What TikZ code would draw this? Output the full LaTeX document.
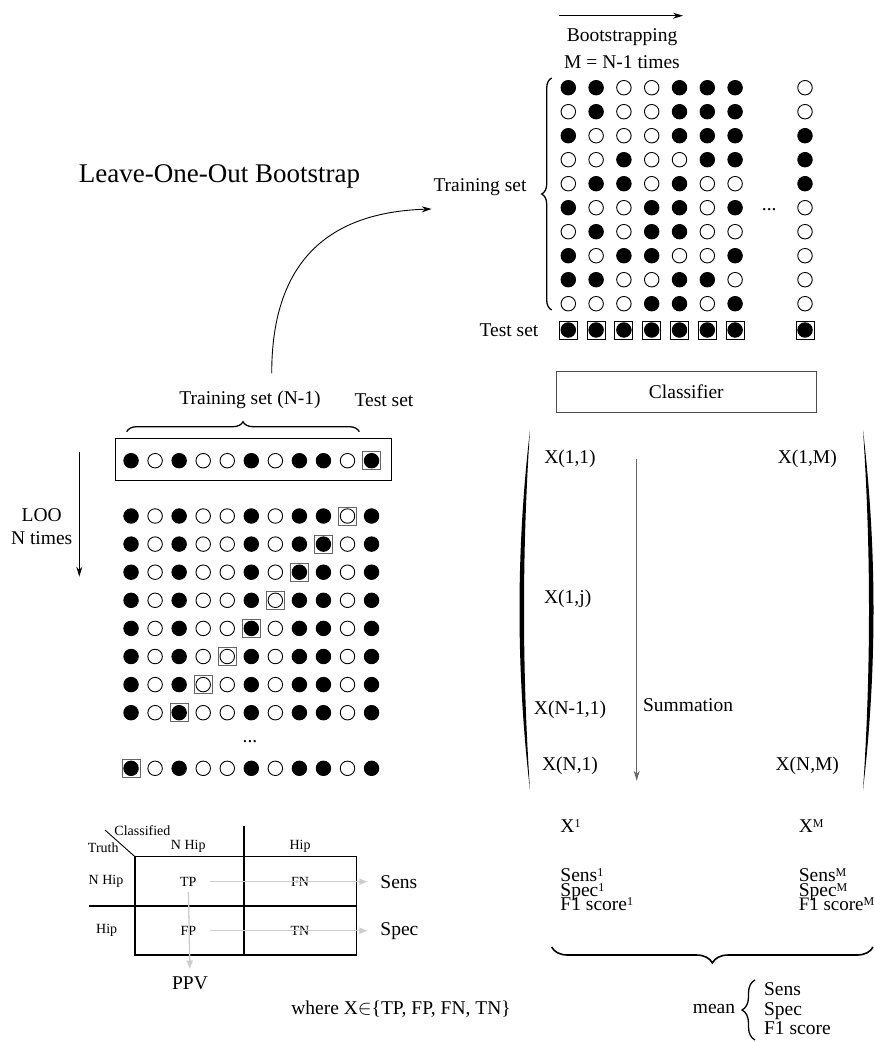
\documentclass[tikz,border=0pt]{standalone}
\usepackage{fontspec}
\setmainfont{Liberation Serif}
\usetikzlibrary{arrows.meta,decorations.pathreplacing}
\newcommand{\sobre}[1]{\raisebox{5pt}{\fontsize{12}{12}\selectfont #1}}

\begin{document}
\begin{tikzpicture}[x=1pt,y=-1pt,line width=0.9pt,
		p0/.style={circle,draw,minimum size=14.5pt,inner sep=0pt},
		p1/.style={p0,fill=black},
		caja/.style={draw,minimum size=18pt,inner sep=0pt},
		texto/.style={font=\fontsize{19.5}{23}\selectfont,inner sep=1pt},
		tabla/.style={font=\fontsize{14}{16}\selectfont,inner sep=1pt},
		flecha/.style={-{Stealth[length=10pt,width=6pt]}},
		gris/.style={draw=gray!40,line width=1.3pt,-{Latex[length=9pt,width=7pt]}},
		llave/.style={decorate,line width=1.3pt}]
		\useasboundingbox (0,0) rectangle (875,1042);

		% Titulo
		\node[font=\fontsize{27}{30}\selectfont] (titulo) at (219.5,176.7) {Leave-One-Out Bootstrap};

		% Leave-one-out: fila completa con caja
		\node[draw,minimum width=276.7pt,minimum height=42.4pt] (fila) at (253.35,459.5) {};
		\foreach \v [count=\c] in {1,0,1,0,0,1,0,1,1,0,1}
			\node[p\v] (a-0-\c) at (107+24.05*\c,460.7) {};
		\node[caja,draw=black!60] (ca-0) at (a-0-11) {};
		\draw[llave,decoration={brace,amplitude=10pt}] (126.7,431.7) -- (359.3,431.7);
		\node[texto] (ent) at (250,400) {Training set (N-1)};
		\node[texto] (prueba) at (384,400) {Test set};

		% N filas, una caja por fila
		\foreach \k in {1,...,8} {
			\foreach \v [count=\c] in {1,0,1,0,0,1,0,1,1,0,1}
				\node[p\v] (a-\k-\c) at (107+24.05*\c,487.9+28.1*\k) {};
			\pgfmathtruncatemacro{\cb}{11-\k}
			\node[caja,draw=black!60] (ca-\k) at (a-\k-\cb) {};
		}
		\node[texto,anchor=base] (pts-a) at (250,742.5) {...};
		\foreach \v [count=\c] in {1,0,1,0,0,1,0,1,1,0,1}
			\node[p\v] (a-9-\c) at (107+24.05*\c,768.3) {};
		\node[caja,draw=black!60] (ca-9) at (a-9-1) {};

		% flecha LOO
		\coordinate (loo-a) at (79.3,451.7);
		\coordinate (loo-b) at (79.3,576.7);
		\draw[flecha] (loo-a) -- (loo-b);
		\node[texto,align=center] (loo) at (41.7,527) {LOO\\N times};

		% flecha curva hacia el bootstrap
		\coordinate (curva-a) at (271.7,373.3);
		\coordinate (curva-b) at (431.7,209);
		\draw[flecha] (curva-a) .. controls (271.7,255) and (335,212) .. (curva-b);

		% Bootstrap: M columnas
		\coordinate (boot-a) at (559,15.7);
		\coordinate (boot-b) at (683,15.7);
		\draw[flecha] (boot-a) -- (boot-b);
		\node[texto] (boot) at (622,36.7) {Bootstrapping};
		\node[texto] (veces) at (622,62) {M = N-1 times};
		\foreach \fila [count=\r] in {{1,1,0,0,1,1,1,0},{0,1,0,0,1,1,1,0},{1,0,0,0,1,1,1,1},{0,0,1,0,0,1,1,1},{0,1,1,0,1,0,0,1},{1,0,0,1,1,0,1,0},{0,1,0,1,1,0,0,0},{1,0,1,1,0,0,1,0},{1,1,0,0,1,1,0,0},{0,0,0,1,1,0,1,0}}
			\foreach \v [count=\c] in \fila {
				\pgfmathsetmacro{\xb}{{568.3,596.1,623.9,651.7,679.5,707.3,735.1,805}[\c-1]}
				\node[p\v] (b-\r-\c) at (\xb,63.7+24*\r) {};
			}
		\foreach \c in {1,...,8} {
			\pgfmathsetmacro{\xb}{{568.3,596.1,623.9,651.7,679.5,707.3,735.1,805}[\c-1]}
			\node[p1] (t-\c) at (\xb,330) {};
			\node[caja] (tc-\c) at (\xb,330) {};
		}
		\node[texto,anchor=base] (pts-b) at (769.3,210.5) {...};
		\draw[llave,decoration={brace,amplitude=10pt}] (551.7,310) -- (551.7,78);
		\node[texto] (bent) at (480,186.7) {Training set};
		\node[texto] (bprueba) at (509,330) {Test set};

		% Clasificador
		\node[texto,draw=black!70,minimum width=259.3pt,minimum height=40.6pt] (clasif) at (686.3,392) {Classifier};

		% Parentesis de la matriz
		\fill (530,430) .. controls (516,550) and (516,670) .. (530,790) .. controls (522,670) and (522,550) .. (530,430);
		\fill (863,430) .. controls (877,550) and (877,670) .. (863,790) .. controls (871,670) and (871,550) .. (863,430);
		\node[texto] (x11) at (570,459.3) {X(1,1)};
		\node[texto] (x1m) at (807.3,459.3) {X(1,M)};
		\node[texto] (x1j) at (567.7,599.3) {X(1,j)};
		\node[texto] (xn11) at (570,710) {X(N-1,1)};
		\node[texto] (xn1) at (570,766) {X(N,1)};
		\node[texto] (xnm) at (807.3,766) {X(N,M)};
		\coordinate (suma-a) at (636.7,459);
		\coordinate (suma-b) at (636.7,780.7);
		\draw[flecha,draw=black!60] (suma-a) -- (suma-b);
		\node[texto,anchor=west] (suma) at (641.7,705) {Summation};

		% Resultados por columna
		\node[texto,anchor=base west,inner sep=0pt] (r1) at (560,832) {X\sobre{1}};
		\node[texto,anchor=base west,inner sep=0pt] (rm) at (798.3,832) {X\sobre{M}};
		\node[texto,anchor=base west,inner sep=0pt] (sens1) at (560,881.5) {Sens\sobre{1}};
		\node[texto,anchor=base west,inner sep=0pt] (spec1) at (560,896) {Spec\sobre{1}};
		\node[texto,anchor=base west,inner sep=0pt] (f11) at (560,910.5) {F1 score\sobre{1}};
		\node[texto,anchor=base west,inner sep=0pt] (sensm) at (798.3,881.5) {Sens\sobre{M}};
		\node[texto,anchor=base west,inner sep=0pt] (specm) at (798.3,896) {Spec\sobre{M}};
		\node[texto,anchor=base west,inner sep=0pt,font=\fontsize{19}{23}\selectfont] (f1m) at (798.3,910.5) {F1 score\sobre{M}};
		\draw[llave,line width=1.6pt,decoration={brace,amplitude=16pt}] (873,947) -- (551.7,947);

		% media final
		\node[texto] (media) at (714,1009) {mean};
		\draw[llave,decoration={brace,amplitude=13pt}] (755,1040) -- (755,980);
		\node[texto,anchor=base west] (msens) at (762.7,995.5) {Sens};
		\node[texto,anchor=base west] (mspec) at (762.7,1015) {Spec};
		\node[texto,anchor=base west] (mf1) at (762.7,1034.5) {F1 score};

		% Tabla de confusion
		\draw[line width=1.2pt] (135,856.7) rectangle (356.7,955);
		\draw[line width=1.2pt] (244,826) -- (244,955);
		\draw[line width=1.2pt] (89.3,906) -- (356.7,906);
		\draw (105,830) -- (135,856.7);
		\node[tabla,anchor=west] (clas) at (113,830.7) {Classified};
		\node[tabla] (verdad) at (103.3,847.7) {Truth};
		\node[tabla] (cnh) at (188.3,846.7) {N Hip};
		\node[tabla] (ch) at (300,846.7) {Hip};
		\node[tabla] (fnh) at (106,881.7) {N Hip};
		\node[tabla] (fh) at (106.7,930.7) {Hip};
		\node[tabla] (tp) at (188.3,881.7) {TP};
		\node[tabla] (fn) at (300,881.7) {FN};
		\node[tabla] (fp) at (188.3,930.7) {FP};
		\node[tabla] (tn) at (300,930.7) {TN};
		\node[texto,anchor=west] (sens) at (379,881.7) {Sens};
		\node[texto,anchor=west] (spec) at (379,930.7) {Spec};
		\node[texto] (ppv) at (190,983) {PPV};
		\draw[gris,shorten <=12.5pt,shorten >=10.7pt] (tp.east) -- (sens.west);
		\draw[gris,shorten <=12.5pt,shorten >=10.7pt] (fp.east) -- (spec.west);
		\draw[gris,shorten <=4.3pt,shorten >=5.5pt] (tp.south) -- (ppv.north);
		\node[texto] (donde) at (401,1009.3) {where X$\in$\{TP, FP, FN, TN\}};
	\end{tikzpicture}
\end{document}
